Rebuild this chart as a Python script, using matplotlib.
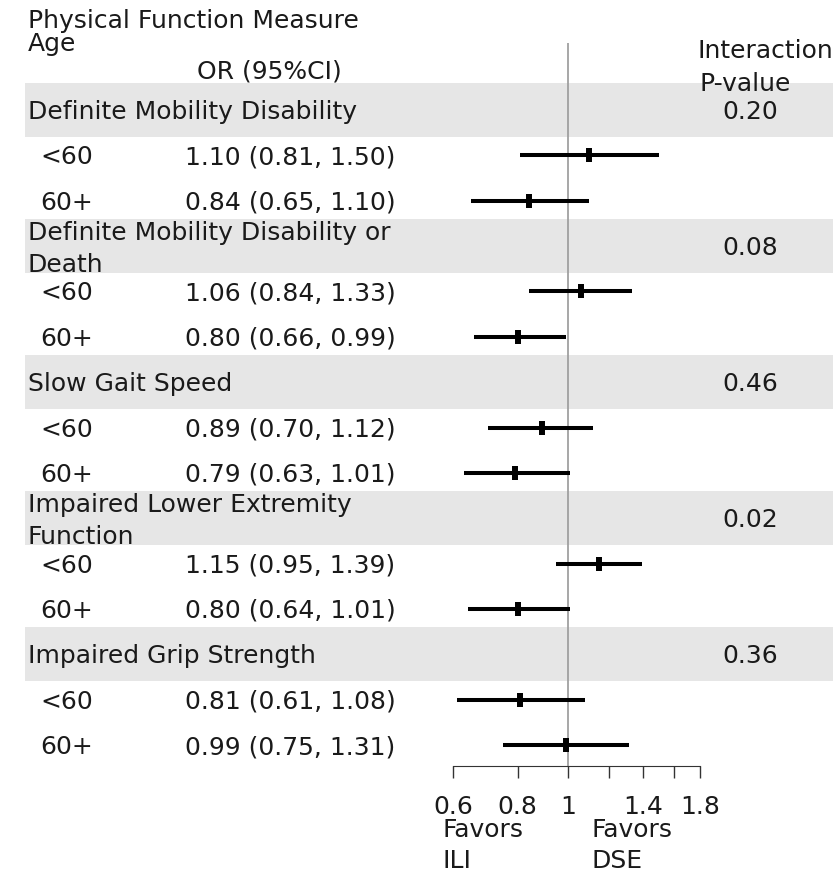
import matplotlib
matplotlib.use("Agg")
import matplotlib.pyplot as plt
import numpy as np

plt.rcParams['font.family'] = ['DejaVu Sans']
plt.rcParams['font.size'] = 18

# data
measures = ["Definite Mobility Disability",
            "Definite Mobility Disability or\nDeath",
            "Slow Gait Speed",
            "Impaired Lower Extremity\nFunction",
            "Impaired Grip Strength"]
p_values = ["0.20", "0.08", "0.46", "0.02", "0.36"]
ages = ["<60", "60+"]
or_est = [[1.10, 0.84], [1.06, 0.80], [0.89, 0.79], [1.15, 0.80], [0.81, 0.99]]
ci_low = [[0.81, 0.65], [0.84, 0.66], [0.70, 0.63], [0.95, 0.64], [0.61, 0.75]]
ci_high = [[1.50, 1.10], [1.33, 0.99], [1.12, 1.01], [1.39, 1.01], [1.08, 1.31]]
tick_vals = [0.6, 0.8, 1.0, 1.2, 1.4, 1.6, 1.8]
tick_labels = ["0.6", "0.8", "1", "", "1.4", "", "1.8"]

W, H = 833, 872
text_col = "#1a1a1a"
band_col = "#e6e6e6"

fig = plt.figure(figsize=(W / 100, H / 100), dpi=100)
ax = fig.add_axes([0, 0, 1, 1])
ax.patch.set_alpha(0)

# pixel layout -> axis limits
row0, row_step = 110, 45.36
k = (700 - 453) / np.log(3)
ax.set_xscale('log')
ax.set_xlim(0.6 * np.exp(-453 / k), 0.6 * np.exp((W - 453) / k))
ax.set_ylim((H - row0) / row_step, -row0 / row_step)


def py(p):
    return (p - row0) / row_step


base = 9 / row_step  # baseline sits half a cap height below the row centre
ytr = ax.get_yaxis_transform()
for g, name in enumerate(measures):
    yh = 3 * g
    ax.axhspan(yh - 0.595, yh + 0.595, xmin=25 / W, xmax=1, color=band_col, lw=0, zorder=0)
    if "\n" in name:
        # two-line label: anchored on the baseline of its last line
        ax.text(28 / W, yh + 26 / row_step, name, transform=ytr, va='baseline', ha='left',
                color=text_col, linespacing=1.43)
    else:
        ax.text(28 / W, yh + base, name, transform=ytr, va='baseline', ha='left', color=text_col)
    ax.text(750 / W, yh + base, p_values[g], transform=ytr, va='baseline', ha='center', color=text_col)
    for a, age in enumerate(ages):
        y = yh + 1 + a
        ax.text(40 / W, y + base, age, transform=ytr, va='baseline', ha='left', color=text_col)
        ax.text(185 / W, y + base, f"{or_est[g][a]:.2f} ({ci_low[g][a]:.2f}, {ci_high[g][a]:.2f})",
                transform=ytr, va='baseline', ha='left', color=text_col)
        ax.hlines(y, ci_low[g][a], ci_high[g][a], color='black', lw=2.9, zorder=3)
        ax.plot(or_est[g][a], y, marker='|', ms=10, mew=4.3, color='black', zorder=4)

axis_y = py(766)
ax.vlines(1.0, py(43), axis_y, color='#a0a0a0', lw=1.3, zorder=2)

# bottom axis
for s in ['left', 'right', 'top']:
    ax.spines[s].set_visible(False)
ax.spines['bottom'].set_position(('data', axis_y))
ax.spines['bottom'].set_bounds(0.6, 1.8)
ax.spines['bottom'].set_color('#333333')
ax.xaxis.set_minor_locator(matplotlib.ticker.NullLocator())
ax.set_xticks(tick_vals)
ax.set_xticklabels(tick_labels)
ax.tick_params(axis='x', direction='out', length=8.6, width=1, color='#333333',
               pad=12, labelcolor=text_col, labelsize=18)
ax.set_yticks([])

# headers
fig.text(28 / W, 1 - 28 / H, "Physical Function Measure", va='baseline', ha='left', color=text_col)
fig.text(28 / W, 1 - 51 / H, "Age", va='baseline', ha='left', color=text_col)
fig.text(197 / W, 1 - 78 / H, "OR (95%CI)", va='baseline', ha='left', color=text_col)
fig.text(698 / W, 1 - 58 / H, "Interaction", va='baseline', ha='left', color=text_col)
fig.text(700 / W, 1 - 91 / H, "P-value", va='baseline', ha='left', color=text_col)
fig.text(443 / W, 1 - 837 / H, "Favors", va='baseline', ha='left', color=text_col)
fig.text(443 / W, 1 - 868 / H, "ILI", va='baseline', ha='left', color=text_col)
fig.text(592 / W, 1 - 837 / H, "Favors", va='baseline', ha='left', color=text_col)
fig.text(592 / W, 1 - 868 / H, "DSE", va='baseline', ha='left', color=text_col)

fig.savefig("out.png", dpi=100)
